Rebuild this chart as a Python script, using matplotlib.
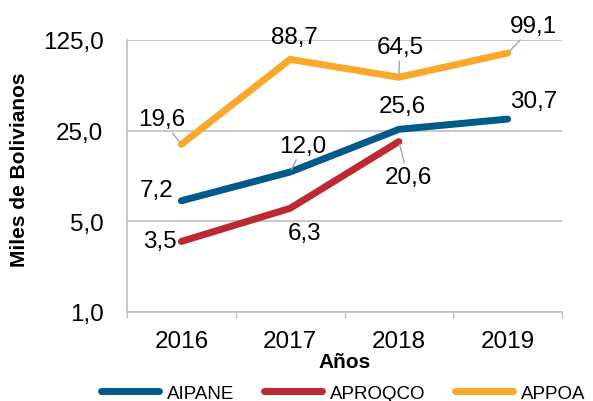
import numpy as np
import matplotlib.pyplot as plt
from matplotlib.ticker import FixedLocator, NullFormatter

plt.rcParams['font.family'] = ['Liberation Sans', 'DejaVu Sans']

# data
years = ['2016', '2017', '2018', '2019']
aipane = [7.2, 12.0, 25.6, 30.7]
aproqco = [3.5, 6.3, 20.6]
appoa = [19.6, 88.7, 64.5, 99.1]
yticks = [1, 5, 25, 125]
ytick_labels = ['1,0', '5,0', '25,0', '125,0']

series = [('AIPANE', aipane, '#005B8A'),
          ('APROQCO', aproqco, '#BE2832'),
          ('APPOA', appoa, '#F9A82B')]

# label offsets (pixels, baseline) and whether Excel drew a leader line
label_pos = {
    'AIPANE': [(-25, 5, False), (13, 20, True), (3, 17, False), (26, 12, False)],
    'APROQCO': [(-21, -6, False), (14, -31, False), (9, -41, True)],
    'APPOA': [(-20, 19, True), (4, 16, False), (1, 24, True), (26, 21, True)],
}

fig = plt.figure(figsize=(5.93, 4.02), dpi=100)
ax = fig.add_axes([127/593, 1 - 313/402, (562 - 127)/593, (313 - 41)/402])

x = np.arange(len(years))
for name, vals, col in series:
    xs = x[:len(vals)]
    ax.plot(xs, vals, color=col, lw=5, solid_capstyle='round',
            solid_joinstyle='miter', label=name, zorder=3)
    for xi, v, (dx, dy, lead) in zip(xs, vals, label_pos[name]):
        txt = f'{v:.1f}'.replace('.', ',')
        kw = {}
        if lead:
            kw['arrowprops'] = dict(arrowstyle='-', color='#A6A6A6', lw=1,
                                    shrinkA=0, shrinkB=2)
        ax.annotate(txt, (xi, v), xytext=(dx, dy), textcoords='offset pixels',
                    ha='center', va='baseline', fontsize=17.5, color='black',
                    zorder=4, **kw)

ax.set_yscale('log', base=5)
ax.set_ylim(1, 125)
ax.set_xlim(-0.5, 3.5)
ax.yaxis.set_major_locator(FixedLocator(yticks))
ax.yaxis.set_minor_locator(FixedLocator([]))
ax.set_yticklabels(ytick_labels)
ax.yaxis.set_minor_formatter(NullFormatter())
ax.tick_params(axis='y', length=0, pad=17, labelsize=17.5)

ax.set_xticks(x)
ax.set_xticklabels(years)
ax.set_xticks(np.arange(-0.5, 4, 1), minor=True)
ax.tick_params(axis='x', which='major', length=0, pad=13, labelsize=17.5)
ax.tick_params(axis='x', which='minor', length=4, width=1, color='#BFBFBF',
               direction='out')

ax.grid(axis='y', color='#BFBFBF', lw=1.2)
ax.set_axisbelow(True)
for s in ['top', 'right']:
    ax.spines[s].set_visible(False)
for s in ['left', 'bottom']:
    ax.spines[s].set_color('#BFBFBF')
    ax.spines[s].set_linewidth(1.2)

ax.set_xlabel('Años', fontsize=15, fontweight='bold', labelpad=0)
ax.set_ylabel('Miles de Bolivianos', fontsize=15, fontweight='bold', va='center')
ax.yaxis.set_label_coords(-107/435, 0.526)

fig.legend(loc='center', bbox_to_anchor=(343/593, 1 - 394/402), ncol=3,
           frameon=False, fontsize=13.5, handlelength=3.1, handletextpad=0.4,
           columnspacing=1.6, borderpad=0)

fig.savefig('out.png', dpi=100)
